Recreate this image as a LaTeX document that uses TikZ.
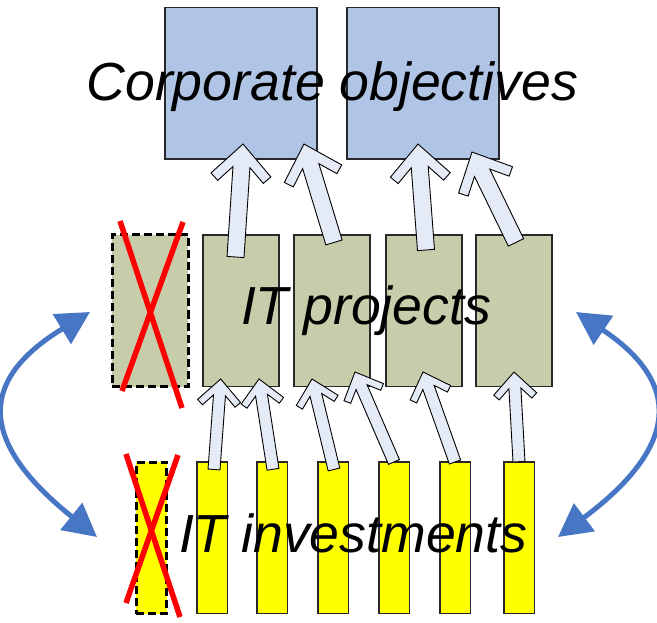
\documentclass[tikz,border=0pt]{standalone}
\usepackage{fontspec}
\setmainfont{Liberation Sans}
\usetikzlibrary{arrows.meta,calc}

\definecolor{objfill}{RGB}{176,197,229}
\definecolor{projfill}{RGB}{199,205,170}
\definecolor{invfill}{RGB}{255,255,0}
\definecolor{arrowfill}{RGB}{229,235,246}
\definecolor{swingblue}{RGB}{70,118,196}
\definecolor{boxline}{RGB}{40,40,40}

% Outlined block arrow from #1 (tail) to #2 (tip).
% #3 shaft half-width, #4 head half-width, #5 head length, #6 barb thickness
\newcommand\blockarrow[6]{%
  \path let \p1=(#1), \p2=(#2),
            \n1={atan2(\y2-\y1,\x2-\x1)},
            \n2={veclen(\x2-\x1,\y2-\y1)} in
        \pgfextra{\xdef\baAngleRaw{\n1}\xdef\baLengthRaw{\n2}};
  \pgfmathsetmacro\baAngle{\baAngleRaw}%
  \pgfmathsetmacro\baLength{\baLengthRaw}%
  \pgfmathsetmacro\baS{sqrt((#5)^2+(#4)^2)}%
  \pgfmathsetmacro\baIu{-(#5)-(#6)*(#4)/\baS}%
  \pgfmathsetmacro\baIv{(#4)-(#6)*(#5)/\baS}%
  \pgfmathsetmacro\baJu{\baIu+(\baIv-(#3))*(#5)/(#4)}%
  \draw[blockarrow, shift={(#2)}, rotate=\baAngle]
    (-\baLength pt,-#3 pt) -- (\baJu pt,-#3 pt) -- (\baIu pt,-\baIv pt)
    -- (-#5 pt,-#4 pt) -- (0pt,0pt) -- (-#5 pt,#4 pt)
    -- (\baIu pt,\baIv pt) -- (\baJu pt,#3 pt) -- (-\baLength pt,#3 pt) -- cycle;
}
\newcommand\bigarrow[2]{\blockarrow{#1}{#2}{8.5}{30}{31}{10}}
\newcommand\smallarrow[2]{\blockarrow{#1}{#2}{6}{21.5}{22}{7.2}}

\tikzset{
  box/.style={draw=boxline, line width=1.1pt, inner sep=0pt, outer sep=0pt,
              anchor=north west, minimum height=151.5pt},
  objbox/.style={box, fill=objfill, minimum width=152pt},
  projbox/.style={box, fill=projfill, minimum width=76pt},
  invbox/.style={box, fill=invfill, minimum width=30.5pt},
  dropped/.style={draw=black, line width=3pt, dash pattern=on 8pt off 4pt},
  blockarrow/.style={draw=black, line width=0.9pt, fill=arrowfill, line join=miter},
  bigtext/.style={inner sep=0pt, outer sep=0pt, anchor=base west,
                  font=\fontsize{53.6}{60}\selectfont\itshape},
  crossout/.style={draw=red, line width=5.5pt, line cap=butt},
  swing/.style={draw=swingblue, line width=5pt,
                {Triangle[length=33pt,width=34pt]}-{Triangle[length=33pt,width=34pt]}}
}

\begin{document}
\begin{tikzpicture}[x=1pt,y=-1pt]
\useasboundingbox (0,0) rectangle (657,623);

% corporate objectives
\node[objbox] (obj1) at (165,7.5) {};
\node[objbox] (obj2) at (347,7.5) {};

% IT projects (first one dropped)
\node[projbox, dropped] (prj0) at (112,235) {};
\node[projbox] (prj1) at (203,235) {};
\node[projbox] (prj2) at (294,235) {};
\node[projbox] (prj3) at (386,235) {};
\node[projbox] (prj4) at (476,235) {};

% IT investments (first one dropped)
\node[invbox, dropped] (inv0) at (136,462) {};
\node[invbox] (inv1) at (197,462) {};
\node[invbox] (inv2) at (257,462) {};
\node[invbox] (inv3) at (318,462) {};
\node[invbox] (inv4) at (379,462) {};
\node[invbox] (inv5) at (440,462) {};
\node[invbox] (inv6) at (504,462) {};

% arrow ends: projects -> objectives
\coordinate (pa1) at (235.5,257);  \coordinate (oa1) at (243,144);
\coordinate (pa2) at (334,242.5);  \coordinate (oa2) at (304,144);
\coordinate (pa3) at (426,250);    \coordinate (oa3) at (418,144);
\coordinate (pa4) at (516,242.5);  \coordinate (oa4) at (472,152);

% arrow ends: investments -> projects
\coordinate (ia1) at (214,469.5);  \coordinate (qa1) at (220.7,379);
\coordinate (ia2) at (273,469.3);  \coordinate (qa2) at (259,379);
\coordinate (ia3) at (334,469.5);  \coordinate (qa3) at (312,379);
\coordinate (ia4) at (394,462);    \coordinate (qa4) at (355,372);
\coordinate (ia5) at (455,462);    \coordinate (qa5) at (423,372);
\coordinate (ia6) at (519,461.7);  \coordinate (qa6) at (514,372);

\bigarrow{pa1}{oa1}
\bigarrow{pa2}{oa2}
\bigarrow{pa3}{oa3}
\bigarrow{pa4}{oa4}

\smallarrow{ia1}{qa1}
\smallarrow{ia2}{qa2}
\smallarrow{ia3}{qa3}
\smallarrow{ia4}{qa4}
\smallarrow{ia5}{qa5}
\smallarrow{ia6}{qa6}

% layer labels
\node[bigtext] (lblobj) at (86.5,101) {Corporate objectives};
\node[bigtext] (lblprj) at (241,324) {IT projects};
\node[bigtext] (lblinv) at (179,552) {IT investments};

% crossed-out items
\draw[crossout] (120,221) -- (182,408);
\draw[crossout] (183,222) -- (122,391);
\draw[crossout] (126,454) -- (180,617);
\draw[crossout] (178,455) -- (126,603);

% feedback between the layers
\coordinate (lt) at (90,312);  \coordinate (lb) at (97,537);
\coordinate (rt) at (576,312); \coordinate (rb) at (558,537);
\draw[swing] (lt) .. controls +(-120,73) and +(-110,-88.5) .. (lb);
\draw[swing] (rt) .. controls +(115,77) and +(111,-83) .. (rb);
\end{tikzpicture}
\end{document}
